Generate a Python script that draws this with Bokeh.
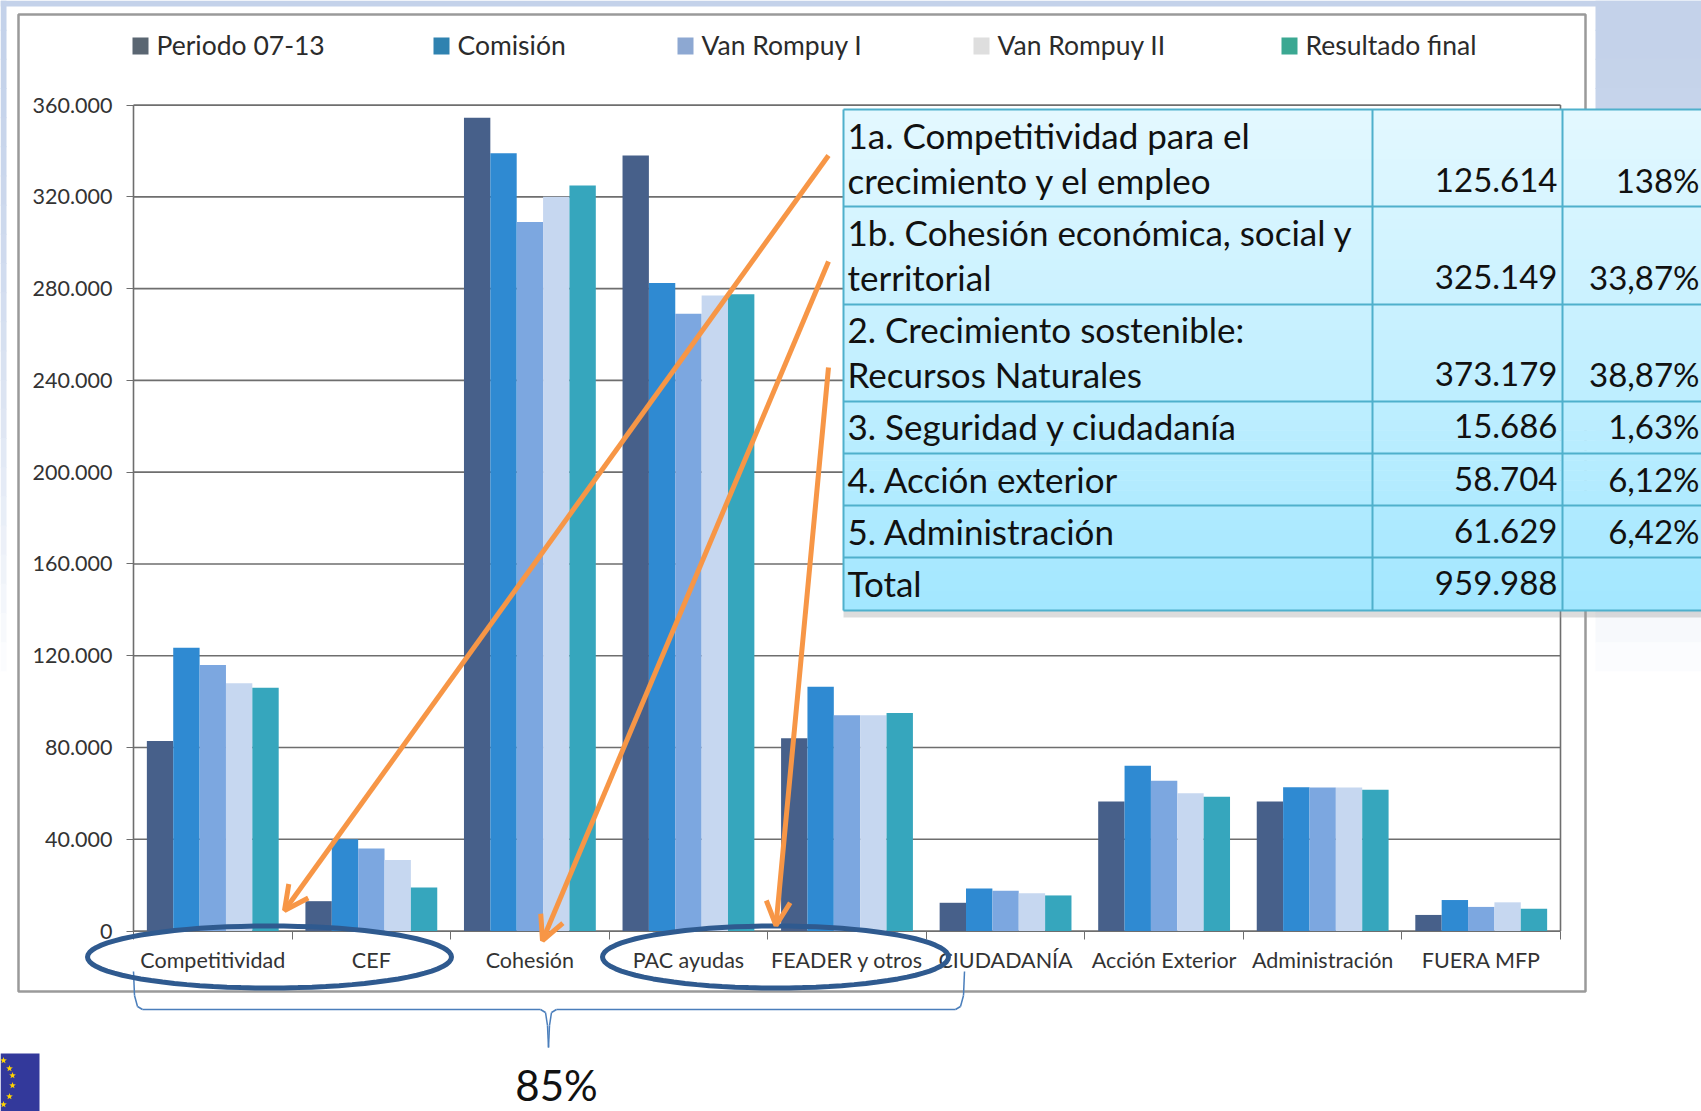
import math
from bokeh.plotting import figure
from bokeh.core.properties import value
from bokeh.models import (Range1d, LinearAxis, FixedTicker, BoxAnnotation, Arrow,
                          OpenHead, PolyAnnotation, ColumnDataSource)
from bokeh.embed import file_html
from bokeh.resources import INLINE

categories = ["Competitividad", "CEF", "Cohesión", "PAC ayudas", "FEADER y otros",
              "CIUDADANÍA", "Acción Exterior", "Administración", "FUERA MFP"]
series_names = ["Periodo 07-13", "Comisión", "Van Rompuy I", "Van Rompuy II", "Resultado final"]
periodo = [82800, 13000, 354500, 338000, 84000, 12300, 56500, 56500, 7000]
comision = [123500, 40000, 339000, 282500, 106500, 18500, 72000, 62700, 13500]
rompuy1 = [116000, 36000, 309000, 269000, 94000, 17500, 65500, 62500, 10500]
rompuy2 = [108000, 31000, 320000, 277000, 94000, 16500, 60000, 62500, 12500]
final = [106000, 19000, 325000, 277500, 95000, 15500, 58500, 61600, 9700]
y_ticks = [0, 40000, 80000, 120000, 160000, 200000, 240000, 280000, 320000, 360000]
y_tick_labels = ["0", "40.000", "80.000", "120.000", "160.000", "200.000", "240.000",
                 "280.000", "320.000", "360.000"]
bar_colors = ["#47608a", "#2f8ad2", "#7ca7e0", "#c6d7f0", "#36a6bd"]
legend_colors = ["#5a6672", "#2f82b0", "#8da8d2", "#dedede", "#3ba892"]
legend_swatch_x = [132, 433, 677, 973, 1281]

table_lines = [["1a. Competitividad para el", "crecimiento y el empleo"],
               ["1b. Cohesión económica, social y", "territorial"],
               ["2. Crecimiento sostenible:", "Recursos Naturales"],
               ["3. Seguridad y ciudadanía"],
               ["4. Acción exterior"],
               ["5. Administración"],
               ["Total"]]
table_amounts = ["125.614", "325.149", "373.179", "15.686", "58.704", "61.629", "959.988"]
table_shares = ["138%", "33,87%", "38,87%", "1,63%", "6,12%", "6,42%", ""]
table_row_edges = [109, 206, 304, 401, 453, 505, 557, 610]
table_baselines = [[147, 192], [244, 289], [341, 386], [438], [491], [543], [595]]

FONT = "Lato"
W, H = 1701, 1111
AX_L, AX_R, AX_T, AX_B = 133, 1560, 104.6, 930.5
n = len(categories)
ymax = y_ticks[-1]
x_per_px = n / (AX_R - AX_L)
y_per_px = ymax / (AX_B - AX_T)

p = figure(width=W, height=H, output_backend="svg", toolbar_location=None,
           x_range=Range1d(-AX_L * x_per_px, (W - AX_L) * x_per_px),
           y_range=Range1d(-(H - AX_B) * y_per_px, ymax + AX_T * y_per_px),
           min_border=0, x_axis_location=None, y_axis_location=None)
p.background_fill_color = None
p.border_fill_color = "white"
p.outline_line_color = None
p.grid.visible = False

gline = "#6e6e6e"
p.segment(x0=[0] * n + [0, 0, n], x1=[n] * n + [n, 0, n],
          y0=y_ticks[1:] + [0, 0, 0], y1=y_ticks[1:] + [0, ymax, ymax],
          line_color=gline, line_width=1.6)

ya = LinearAxis(fixed_location=0, ticker=FixedTicker(ticks=y_ticks), bounds=(0, ymax))
ya.major_label_overrides = dict(zip(y_ticks, y_tick_labels))
ya.major_label_text_font = FONT
ya.major_label_text_font_size = "21.5px"
ya.major_label_text_color = "#333333"
ya.major_label_standoff = 14
ya.major_tick_out = 7
ya.major_tick_in = 0
ya.minor_tick_line_color = None
ya.axis_line_color = gline
ya.major_tick_line_color = gline
p.add_layout(ya, "left")

xa = LinearAxis(fixed_location=0, ticker=FixedTicker(ticks=list(range(n + 1))), bounds=(0, n))
xa.major_label_overrides = {i: "" for i in range(n + 1)}
xa.major_tick_out = 8
xa.major_tick_in = 0
xa.minor_tick_line_color = None
xa.axis_line_color = gline
xa.major_tick_line_color = gline
p.add_layout(xa, "below")

xb = LinearAxis(fixed_location=0, ticker=FixedTicker(ticks=[i + 0.5 for i in range(n)]))
xb.major_label_overrides = {i + 0.5: c for i, c in enumerate(categories)}
xb.major_label_text_font = FONT
xb.major_label_text_font_size = "21.5px"
xb.major_label_text_color = "#333333"
xb.major_tick_line_color = None
xb.major_tick_out = 0
xb.major_tick_in = 0
xb.minor_tick_line_color = None
xb.axis_line_color = None
xb.major_label_standoff = 16
p.add_layout(xb, "below")

bar_w = 0.1663
for j, vals in enumerate([periodo, comision, rompuy1, rompuy2, final]):
    src = ColumnDataSource(dict(x=[i + 0.5 + (j - 2) * bar_w for i in range(len(vals))], top=vals))
    p.vbar(x="x", top="top", bottom=0, width=bar_w, source=src, fill_color=bar_colors[j], line_color=None)


def box(l, r, t, b, fill=None, line=None, lw=1, level="annotation", alpha=1.0):
    bx = BoxAnnotation(left=l, right=r, top=t, bottom=b,
                       left_units="canvas", right_units="canvas", top_units="canvas", bottom_units="canvas",
                       fill_color=fill, fill_alpha=alpha if fill else 0,
                       line_color=line, line_alpha=1 if line else 0, line_width=lw, level=level,
                       editable=False)
    p.add_layout(bx)
    return bx


BASELINE_SHIFT = 0.37


def label(x, y, text, size, color="#1a1a1a", align="left"):
    yy = y - BASELINE_SHIFT * size
    p.text(x=[(x - AX_L) * x_per_px], y=[(AX_B - yy) * y_per_px], text=[text],
           text_font=value(FONT), text_font_size=f"{size}px", text_color=color,
           text_align=align, text_baseline="alphabetic", level="overlay")


def seg(x0, y0, x1, y1, color, lw, head=None):
    p.add_layout(Arrow(x_start=x0, y_start=y0, x_end=x1, y_end=y1,
                       start_units="canvas", end_units="canvas",
                       line_color=color, line_width=lw, end=head, start=None))


def mix(a, b, t):
    ca = [int(a[i:i + 2], 16) for i in (1, 3, 5)]
    cb = [int(b[i:i + 2], 16) for i in (1, 3, 5)]
    return "#%02x%02x%02x" % tuple(round(u + (v - u) * t) for u, v in zip(ca, cb))


# slide background, fading to white
box(0, W, 0, 6, fill="#c4d2ea", level="underlay")
steps = 24
for k in range(steps):
    t0 = 700 * k / steps
    t1 = 700 * (k + 1) / steps
    c = mix("#c4d2ea", "#ffffff", (k / (steps - 1)) ** 1.6)
    box(1595, W, t0, t1 + 1, fill=c, level="underlay")
    box(0, 6, t0, t1 + 1, fill=c, level="underlay")

# chart card
box(18, 1585, 14, 991, line="#9a9a9a", lw=2.5, level="underlay")

# legend
for sx, name, col in zip(legend_swatch_x, series_names, legend_colors):
    box(sx, sx + 16, 37, 54, fill=col)
    label(sx + 24, 54, name, 26.5, color="#2b2b2b")

# brace
brace_col = "#4a7ebb"
pts = [(133, 971), (134, 995), (137, 1006), (142, 1009), (540, 1009), (545, 1012), (547, 1025), (548, 1047)]
pts2 = [(548, 1047), (549, 1025), (551, 1012), (556, 1009), (955, 1009), (960, 1006), (963, 995), (964, 971)]
for path in (pts, pts2):
    for (a, b), (c, d) in zip(path[:-1], path[1:]):
        seg(a, b, c, d, brace_col, 1.5)


# ellipses
def ellipse(cx, cy, rx, ry):
    ts = [2 * math.pi * i / 80 for i in range(80)]
    p.add_layout(PolyAnnotation(xs=[cx + rx * math.cos(t) for t in ts],
                                ys=[cy + ry * math.sin(t) for t in ts],
                                xs_units="canvas", ys_units="canvas",
                                fill_alpha=0, line_color="#2f5a8f", line_alpha=1, line_width=5,
                                editable=False))


ellipse(269, 956.5, 182, 31)
ellipse(775, 956.5, 173, 31)

# orange arrows
orange = "#f79646"
for a, b, c, d in [(828, 155, 284, 910), (828, 261, 542, 940), (828, 367, 775.5, 925)]:
    seg(a, b, c, d, orange, 5, OpenHead(size=24, line_color=orange, line_width=5))

# table
box(843, W, 610, 617, fill="#9a9a9a", alpha=0.35)
steps = 50
for k in range(steps):
    t0 = 109 + (610 - 109) * k / steps
    t1 = 109 + (610 - 109) * (k + 1) / steps
    box(843, W, t0, t1 + 0.6, fill=mix("#e3f8ff", "#a3e7ff", k / (steps - 1)))
bord = "#4fb0cc"
for e in table_row_edges:
    seg(843, e, W, e, bord, 2)
for e in (843, 1372, 1562):
    seg(e, 109, e, 610, bord, 2)
for lines, amt, sh, bases in zip(table_lines, table_amounts, table_shares, table_baselines):
    for txt, by in zip(lines, bases):
        label(847, by, txt, 35, color="#111111")
    label(1557, bases[-1], amt, 33, color="#111111", align="right")
    if sh:
        label(1699, bases[-1], sh, 33, color="#111111", align="right")

# 85 %
label(556, 1100, "85%", 42, color="#111111", align="center")

# flag
box(0, 39, 1053, H, fill="#33399b")
for sx, sy in [(9, 1068), (12, 1085), (9, 1096), (12, 1075), (3, 1060), (3, 1104)]:
    ts = [math.pi / 2 + i * math.pi / 5 for i in range(10)]
    rs = [3.5 if i % 2 == 0 else 1.4 for i in range(10)]
    p.add_layout(PolyAnnotation(xs=[sx + r * math.cos(t) for r, t in zip(rs, ts)],
                                ys=[sy - r * math.sin(t) for r, t in zip(rs, ts)],
                                xs_units="canvas", ys_units="canvas",
                                fill_color="#ffd400", fill_alpha=1, line_color=None, editable=False))

open("out.html", "w").write(file_html(p, INLINE))
